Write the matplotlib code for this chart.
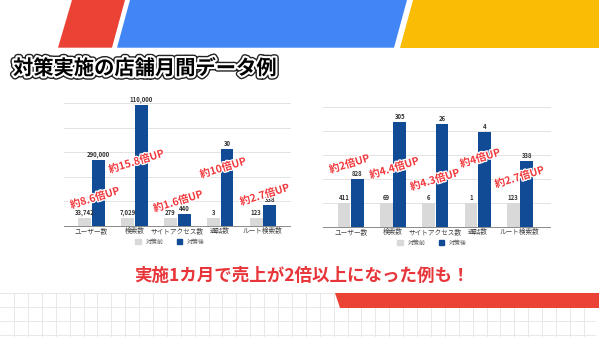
import matplotlib
matplotlib.use("Agg")
import matplotlib.pyplot as plt
import matplotlib.patheffects as pe
from matplotlib.patches import Polygon, Patch
import numpy as np

plt.rcParams['font.family'] = ['Noto Sans CJK JP', 'DejaVu Sans']

# ---------------- data ----------------
categories = ["ユーザー数", "検索数", "サイトアクセス数", "通話数", "ルート検索数"]
legend_labels = ["対策前", "対策後"]

# left chart (bar heights read in gridline units)
left_before = [0.31, 0.31, 0.31, 0.31, 0.31]
left_after = [2.68, 4.90, 0.49, 3.13, 0.86]
left_before_labels = ["33,742", "7,029", "279", "3", "123"]
left_after_labels = ["290,000", "110,000", "440", "30", "338"]
left_notes = ["約8.6倍UP", "約15.8倍UP", "約1.6倍UP", "約10倍UP", "約2.7倍UP"]

# right chart
right_before = [1.0, 1.0, 1.0, 1.0, 1.0]
right_after = [2.0, 4.37, 4.27, 3.95, 2.73]
right_before_labels = ["411", "69", "6", "1", "123"]
right_after_labels = ["828", "305", "26", "4", "338"]
right_notes = ["約2倍UP", "約4.4倍UP", "約4.3倍UP", "約4倍UP", "約2.7倍UP"]

title = "対策実施の店舗月間データ例"
bottom_msg = "実施1カ月で売上が2倍以上になった例も！"

# ---------------- layout / style ----------------
W, H = 599, 337
C_GRAY = "#d9d9d9"
C_BLUE = "#114a95"
C_RED = "#ea4335"
C_NOTE = "#f2383c"

fig = plt.figure(figsize=(W / 100, H / 100), dpi=100)
fig.patch.set_facecolor("white")

bg = fig.add_axes([0, 0, 1, 1], zorder=0)
bg.set_xlim(0, W)
bg.set_ylim(H, 0)
bg.axis("off")

# header shapes
bg.add_patch(Polygon([(58, 47.7), (112, 47.7), (125, 0), (72, 0)], closed=True, color=C_RED, lw=0))
bg.add_patch(Polygon([(117, 47.7), (394, 47.7), (407, 0), (130, 0)], closed=True, color="#4285f4", lw=0))
bg.add_patch(Polygon([(400, 47.7), (W, 47.7), (W, 0), (413, 0)], closed=True, color="#fbbc05", lw=0))

# bottom grid pattern
for gx in np.arange(14, 597, 13.9):
    bg.plot([gx, gx], [293, H], color="#e4e4e4", lw=0.6, zorder=1)
for gy in [293.3, 307.3, 321.2, 335.4]:
    bg.plot([0, 595], [gy, gy], color="#e4e4e4", lw=0.6, zorder=1)
bg.add_patch(Polygon([(335, 293.3), (W, 293.3), (W, 308), (340, 308)], closed=True, color=C_RED, lw=0, zorder=2))

# title
bg.text(13, 68, title, fontsize=14.6, fontweight="bold", color="black", va="center", ha="left",
        path_effects=[pe.Stroke(linewidth=5, foreground="#222222"),
                      pe.Stroke(linewidth=3, foreground="white"), pe.Normal()])

# bottom message
bg.text(301.5, 275.5, bottom_msg, fontsize=12.6, fontweight="bold", color="#e8353a", va="center", ha="center")


def draw_chart(rect, before, after, blabels, alabels, notes, note_pos, xlim, legend_xy):
    ax = fig.add_axes(rect, zorder=2)
    ax.set_facecolor("none")
    x = np.arange(len(categories))
    w = 0.3
    off = 0.16
    ax.bar(x - off, before, w, color=C_GRAY, zorder=3)
    ax.bar(x + off, after, w, color=C_BLUE, zorder=3)
    ax.set_xlim(*xlim)
    ax.set_ylim(0, 5)
    ax.set_yticks([1, 2, 3, 4, 5])
    ax.yaxis.grid(True, color="#e3e3e3", lw=0.7, zorder=0)
    for gl in ax.get_ygridlines():
        gl.set_clip_on(False)
    ax.tick_params(axis="y", left=False, labelleft=False, length=0)
    ax.tick_params(axis="x", bottom=False, length=0, labelsize=4.8, labelcolor="#444444", pad=0.5)
    ax.set_xticks(x)
    ax.set_xticklabels(categories)
    for s in ["top", "right", "left"]:
        ax.spines[s].set_visible(False)
    ax.spines["bottom"].set_color("#8a8a8a")
    ax.spines["bottom"].set_linewidth(0.7)
    for xi, v, t in zip(x - off, before, blabels):
        ax.text(xi, v + 0.08, t, ha="center", va="bottom", fontsize=4.3, fontweight="bold", color="#333333")
    for xi, v, t in zip(x + off, after, alabels):
        ax.text(xi, v + 0.08, t, ha="center", va="bottom", fontsize=4.3, fontweight="bold", color="#333333")
    for xi, (dx, ny), t in zip(x, note_pos, notes):
        ax.text(xi + dx, ny, t, ha="center", va="center", fontsize=7.5, fontweight="bold",
                color=C_NOTE, rotation=17, zorder=6,
                path_effects=[pe.Stroke(linewidth=1.8, foreground="white"), pe.Normal()])
    handles = [Patch(color=C_GRAY), Patch(color=C_BLUE)]
    ax.legend(handles, legend_labels, loc="center", bbox_to_anchor=legend_xy,
              bbox_transform=fig.transFigure, ncol=2, frameon=False, fontsize=4.3,
              handlelength=0.9, handleheight=0.9, columnspacing=2.2, handletextpad=0.8,
              labelcolor="#555555", borderpad=0, borderaxespad=0)
    return ax


left_note_pos = [(0.08, 1.13), (0.05, 2.61), (0.02, 0.99), (0.07, 2.35), (0.04, 1.26)]
right_note_pos = [(-0.03, 2.61), (0.03, 2.44), (-0.01, 1.95), (0.06, 2.85), (-0.01, 2.06)]

draw_chart([64 / W, 1 - 226 / H, 226 / W, 123 / H], left_before, left_after,
           left_before_labels, left_after_labels, left_notes, left_note_pos,
           (-0.64, 4.63), (170 / W, 1 - 242 / H))
draw_chart([323 / W, 1 - 227 / H, 227 / W, 120.3 / H], right_before, right_after,
           right_before_labels, right_after_labels, right_notes, right_note_pos,
           (-0.655, 4.71), (432 / W, 1 - 243 / H))

fig.savefig("out.png", dpi=100)
